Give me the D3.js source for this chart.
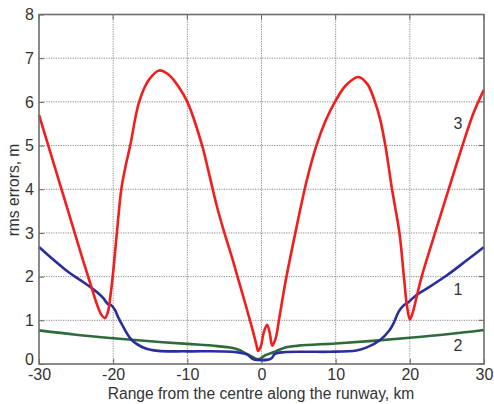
<!DOCTYPE html>
<html><head><meta charset="utf-8">
<script src="https://cdn.jsdelivr.net/npm/d3@7"></script>
<style>
html,body{margin:0;padding:0;background:#fff;}
svg{display:block;font-family:"Liberation Sans",Arial,sans-serif;}
</style></head>
<body>
<svg id="chart" width="494" height="404"></svg>
<script>
// Curve 3 (red)
const x3 = [-30,-28,-26,-24,-23,-22.3,-21.6,-21.1,-20.7,-20.3,-20.0,-19.5,-18.9,-18.3,-17.7,-16.5,-15.2,-13.8,-12.5,-11.2,-10,-8,-7.2,-6,-5,-4,-3.1,-2,-1.2,-0.7,-0.45,-0.1,0.3,0.75,1.1,1.45,1.9,2.4,3.2,4.5,6.1,7.4,8.6,9.9,11.4,13.05,14.3,15.3,16.0,16.7,17.6,18.6,19.2,19.6,20.0,20.4,21.0,21.6,23.4,25.2,27,28.6,30];
const y3 = [5.7,4.58,3.46,2.34,1.8,1.42,1.13,1.05,1.2,1.65,2.1,3.0,4.0,4.55,5.0,6.0,6.5,6.72,6.62,6.35,6.0,5.0,4.45,3.6,3.0,2.45,1.92,1.27,0.78,0.45,0.3,0.4,0.72,0.9,0.72,0.42,0.58,1.05,1.85,2.95,4.2,5.0,5.55,6.0,6.38,6.57,6.4,6.0,5.6,5.0,4.0,3.0,2.0,1.35,1.02,1.18,1.6,2.0,3.0,3.98,4.95,5.75,6.28];
// Curve 1 (blue)
const x1 = [-30,-28,-26,-24,-23,-22,-21.3,-20.7,-20.3,-19.8,-19.3,-18.8,-17.5,-15.7,-13.9,-10,-4,-2,-1.3,-0.9,0.9,1.4,1.8,3,6,9.2,12.8,14.2,16,17.2,17.8,18.5,19.1,19.7,20.9,22.7,25,27.5,30];
const y1 = [2.68,2.38,2.1,1.87,1.75,1.62,1.5,1.37,1.35,1.25,1.06,0.9,0.55,0.36,0.3,0.29,0.28,0.22,0.13,0.1,0.1,0.14,0.23,0.27,0.28,0.28,0.31,0.38,0.55,0.76,0.93,1.2,1.33,1.4,1.58,1.77,2.03,2.35,2.68];
// Curve 2 (green)
const x2 = [-30,-25,-20,-15,-10,-6,-4,-3,-2.2,-1.2,-0.4,0.5,1.8,3.2,5,10,15,20,25,30];
const y2 = [0.77,0.67,0.59,0.52,0.46,0.41,0.37,0.32,0.25,0.16,0.11,0.2,0.28,0.38,0.42,0.47,0.53,0.6,0.68,0.78];

const xTicks = [-30,-20,-10,0,10,20,30];
const yTicks = [0,1,2,3,4,5,6,7,8];
const curveLabels = ["1","2","3"];
const labelPos = [[26.5,1.7],[26.5,0.42],[26.5,5.5]];
const xTitle = "Range from the centre along the runway, km";
const yTitle = "rms errors, m";

const svg = d3.select("#chart");
const L=39, R=484, T=14.5, B=364;
const x = d3.scaleLinear().domain([-30,30]).range([L,R]);
const y = d3.scaleLinear().domain([0,8]).range([B,T]);

// grid
const grid = svg.append("g");
grid.selectAll(".gx").data(xTicks.slice(1,-1)).join("line")
  .attr("x1",d=>x(d)).attr("x2",d=>x(d)).attr("y1",T).attr("y2",B)
  .attr("stroke","#8a8a8a").attr("stroke-width",1).attr("stroke-dasharray","1.2,1.2");
grid.selectAll(".gy").data(yTicks.slice(1,-1)).join("line")
  .attr("y1",d=>y(d)).attr("y2",d=>y(d)).attr("x1",L).attr("x2",R)
  .attr("stroke","#8a8a8a").attr("stroke-width",1).attr("stroke-dasharray","1.2,1.2");

// axes
const fmt = d => String(d);
const xAxis = d3.axisBottom(x).tickValues(xTicks).tickSize(-5).tickPadding(6).tickFormat(fmt);
const yAxis = d3.axisLeft(y).tickValues(yTicks).tickSize(-5).tickPadding(5).tickFormat(fmt);
const gx = svg.append("g").attr("transform",`translate(0,${B})`).call(xAxis);
const gy = svg.append("g").attr("transform",`translate(${L},0)`).call(yAxis);
[gx,gy].forEach(g=>{
  g.select(".domain").remove();
  g.selectAll("line").attr("stroke","#666");
  g.selectAll("text").attr("fill","#333").style("font-size","16px")
    .style("font-family","'Liberation Sans',Arial,sans-serif");
});
gx.selectAll("text").attr("dy","0.62em");
gy.selectAll("text").filter(d=>d===0).attr("dy","0.05em");
// top/right ticks
svg.append("g").selectAll("line").data(xTicks).join("line")
  .attr("x1",d=>x(d)).attr("x2",d=>x(d)).attr("y1",T).attr("y2",T+5).attr("stroke","#666");
svg.append("g").selectAll("line").data(yTicks).join("line")
  .attr("x1",R).attr("x2",R-5).attr("y1",d=>y(d)).attr("y2",d=>y(d)).attr("stroke","#666");

const line = d3.line().curve(d3.curveCatmullRom.alpha(0.5)).x(d=>x(d[0])).y(d=>y(d[1]));
const series = [
  {xs:x2, ys:y2, color:"#2f6a3c"},
  {xs:x1, ys:y1, color:"#2a2e9a"},
  {xs:x3, ys:y3, color:"#f21d1d"}
];
series.forEach(s=>{
  svg.append("path").datum(s.xs.map((v,i)=>[v,s.ys[i]]))
    .attr("d",line).attr("fill","none").attr("stroke",s.color)
    .attr("stroke-width",2.6).attr("stroke-linejoin","round");
});

// frame
svg.append("rect").attr("x",L).attr("y",T).attr("width",R-L).attr("height",B-T)
  .attr("fill","none").attr("stroke","#6e6e6e").attr("stroke-width",1.6);

// curve labels
svg.append("g").selectAll("text").data(curveLabels).join("text")
  .attr("x",(d,i)=>x(labelPos[i][0])).attr("y",(d,i)=>y(labelPos[i][1]))
  .attr("text-anchor","middle").attr("dominant-baseline","central")
  .attr("fill","#333").style("font-size","16px").text(d=>d);

// titles
svg.append("text").attr("x",(L+R)/2-0.5).attr("y",399).attr("text-anchor","middle")
  .attr("fill","#333").style("font-size","15.6px").text(xTitle);
svg.append("text").attr("transform","translate(19,190) rotate(-90)").attr("text-anchor","middle")
  .attr("fill","#333").style("font-size","15.6px").text(yTitle);
</script>
</body></html>
